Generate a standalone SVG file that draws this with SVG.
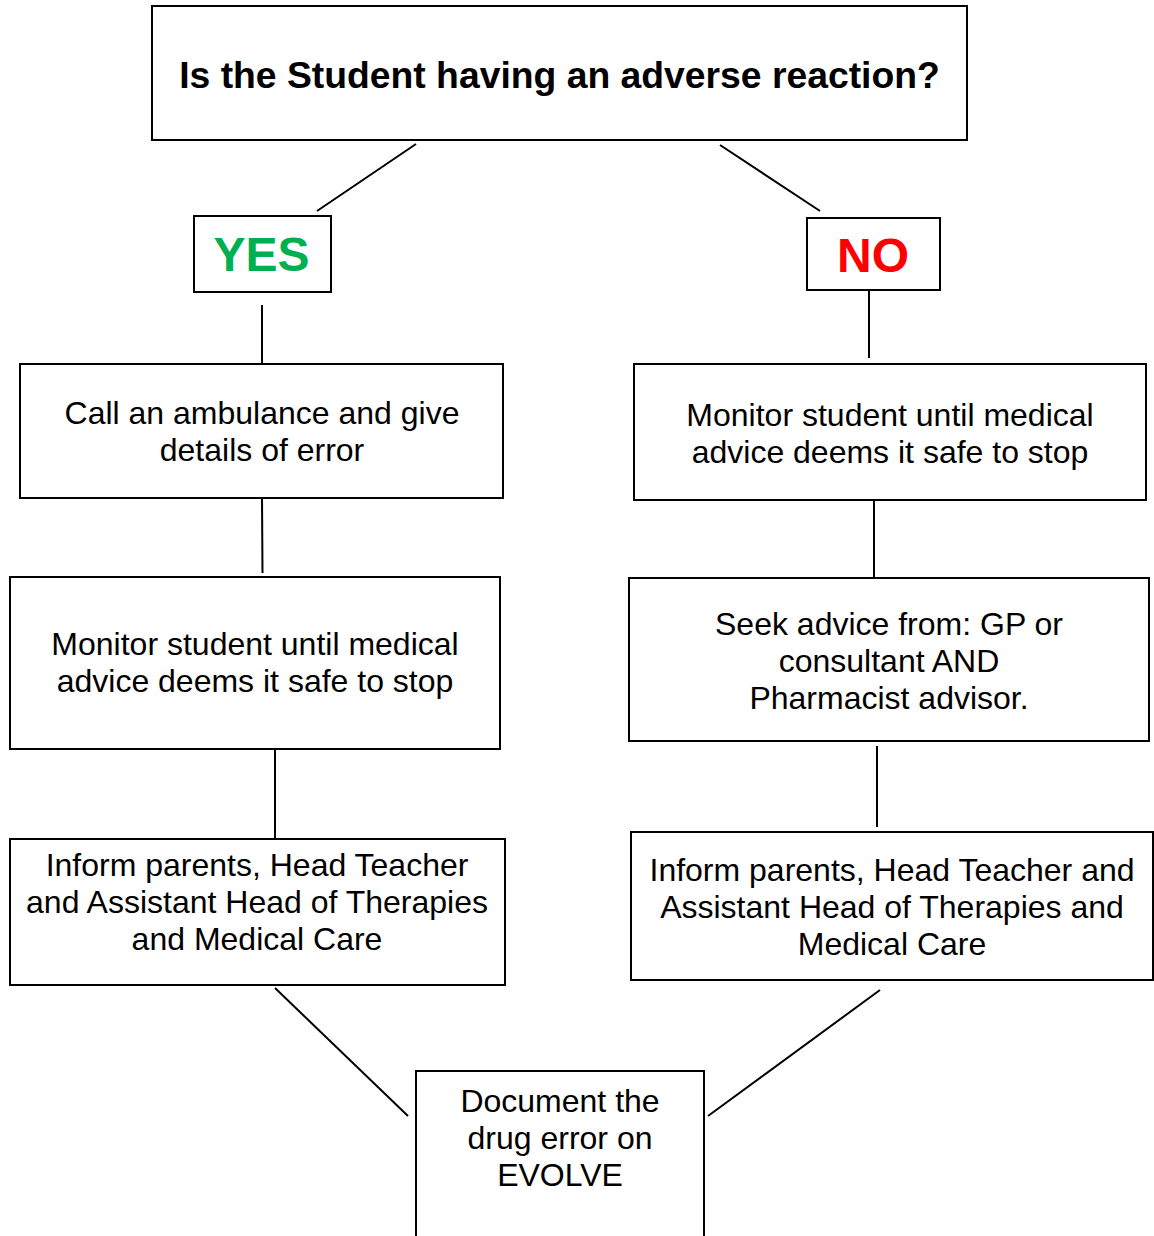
<svg xmlns="http://www.w3.org/2000/svg" width="1154" height="1236" viewBox="0 0 1154 1236">
<style>
.box{fill:#fff;stroke:#000;stroke-width:2}
.t{font-family:"Liberation Sans",Arial,sans-serif;font-size:32px;text-anchor:middle;fill:#000}
.title{font-family:"Liberation Sans",Arial,sans-serif;font-size:37.3px;font-weight:bold;text-anchor:middle;fill:#000}
.big{font-family:"Liberation Sans",Arial,sans-serif;font-size:48px;font-weight:bold;text-anchor:middle}
#connectors line{stroke:#000;stroke-width:2}
</style>
<rect width="1154" height="1236" fill="#fff"/>
<g id="connectors">
<line x1="416" y1="144" x2="317" y2="211"/>
<line x1="720" y1="145" x2="820" y2="211"/>
<line x1="262" y1="305" x2="262" y2="363"/>
<line x1="869" y1="291" x2="869" y2="358"/>
<line x1="262" y1="498" x2="262.5" y2="573"/>
<line x1="874" y1="500" x2="874" y2="577"/>
<line x1="275" y1="749" x2="275" y2="838"/>
<line x1="877" y1="746" x2="877" y2="827"/>
<line x1="275" y1="988" x2="408" y2="1116"/>
<line x1="880" y1="990" x2="708" y2="1116"/>
</g>
<g id="question">
<rect class="box" x="152" y="6" width="815" height="134"/>
<text class="title" x="559.5" y="88">Is the Student having an adverse reaction?</text>
</g>
<g id="yes">
<rect class="box" x="194" y="216" width="137" height="76"/>
<text class="big" x="261.5" y="271" fill="#00b050">YES</text>
</g>
<g id="no">
<rect class="box" x="807" y="218" width="133" height="72"/>
<text class="big" x="873" y="272" fill="#ff0000">NO</text>
</g>
<g id="yes1">
<rect class="box" x="20" y="364" width="483" height="134"/>
<text class="t" x="262" y="424">Call an ambulance and give</text>
<text class="t" x="262" y="461">details of error</text>
</g>
<g id="yes2">
<rect class="box" x="10" y="577" width="490" height="172"/>
<text class="t" x="255" y="655">Monitor student until medical</text>
<text class="t" x="255" y="692">advice deems it safe to stop</text>
</g>
<g id="yes3">
<rect class="box" x="10" y="839" width="495" height="146"/>
<text class="t" x="257" y="876">Inform parents, Head Teacher</text>
<text class="t" x="257" y="913">and Assistant Head of Therapies</text>
<text class="t" x="257" y="950">and Medical Care</text>
</g>
<g id="no1">
<rect class="box" x="634" y="364" width="512" height="136"/>
<text class="t" x="890" y="426">Monitor student until medical</text>
<text class="t" x="890" y="463">advice deems it safe to stop</text>
</g>
<g id="no2">
<rect class="box" x="629" y="578" width="520" height="163"/>
<text class="t" x="889" y="635">Seek advice from: GP or</text>
<text class="t" x="889" y="672">consultant AND</text>
<text class="t" x="889" y="709">Pharmacist advisor.</text>
</g>
<g id="no3">
<rect class="box" x="631" y="832" width="522" height="148"/>
<text class="t" x="892" y="881">Inform parents, Head Teacher and</text>
<text class="t" x="892" y="918">Assistant Head of Therapies and</text>
<text class="t" x="892" y="955">Medical Care</text>
</g>
<g id="document">
<rect class="box" x="416" y="1071" width="288" height="200"/>
<text class="t" x="560" y="1112">Document the</text>
<text class="t" x="560" y="1149">drug error on</text>
<text class="t" x="560" y="1186">EVOLVE</text>
</g>
</svg>
